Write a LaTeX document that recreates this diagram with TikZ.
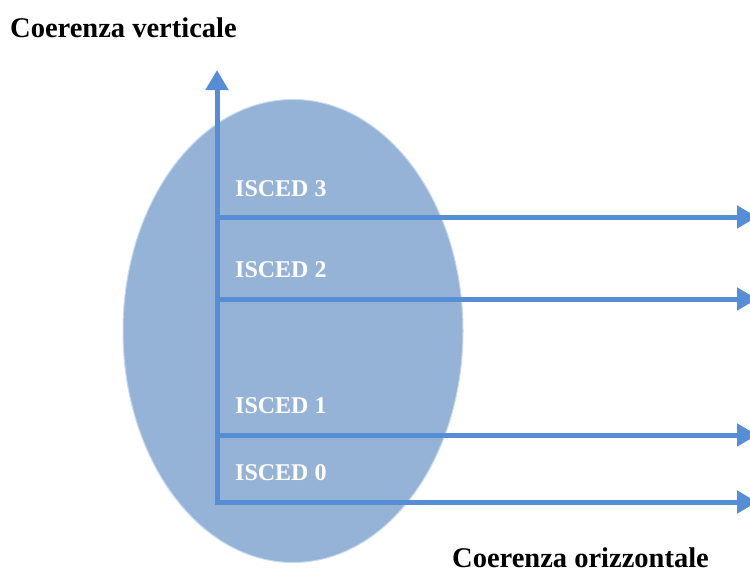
\documentclass[tikz,border=0pt]{standalone}
\usepackage{fontspec}
\setmainfont{Liberation Serif}
\usetikzlibrary{arrows.meta,shapes.geometric}
\definecolor{ellfill}{HTML}{95B3D7}
\definecolor{elledge}{HTML}{C6D9F1}
\definecolor{axcol}{HTML}{558ED5}
\tikzset{
  axis/.style={draw=axcol, line width=5pt, -{Triangle[width=22pt,length=20pt]}},
  lvl/.style={anchor=west, text=white, font=\bfseries\fontsize{24}{24}\selectfont, inner sep=0pt},
  title/.style={anchor=west, text=black, font=\bfseries\fontsize{28.5}{28.5}\selectfont, inner sep=0pt}
}
\begin{document}
\begin{tikzpicture}[x=1pt,y=-1pt]
\useasboundingbox (0,0) rectangle (750,573);
\clip (0,0) rectangle (750,573);
\node[draw=elledge, fill=ellfill, line width=1pt, ellipse, minimum width=340pt, minimum height=463pt, inner sep=0pt] (ell) at (293,331) {};
\coordinate (O) at (217,502);
\coordinate (top) at (217,70);
\coordinate (l3) at (217,217);
\coordinate (l2) at (217,299);
\coordinate (l1) at (217,435);
\coordinate (e3) at (757,217);
\coordinate (e2) at (757,299);
\coordinate (e1) at (757,435);
\coordinate (e0) at (757,502);
\draw[axis] (l3) -- (e3);
\draw[axis] (l2) -- (e2);
\draw[axis] (l1) -- (e1);
\draw[axis] ([xshift=-2.5pt]O) -- (e0);
\draw[axis] ([yshift=2.5pt]O) -- (top);
\node[lvl] (t3) at (235,189) {ISCED 3};
\node[lvl] (t2) at (235,270) {ISCED 2};
\node[lvl] (t1) at (235,406) {ISCED 1};
\node[lvl] (t0) at (235,473) {ISCED 0};
\node[title] (tv) at (10,28) {Coerenza verticale};
\node[title] (to) at (452,558) {Coerenza orizzontale};
\end{tikzpicture}
\end{document}
